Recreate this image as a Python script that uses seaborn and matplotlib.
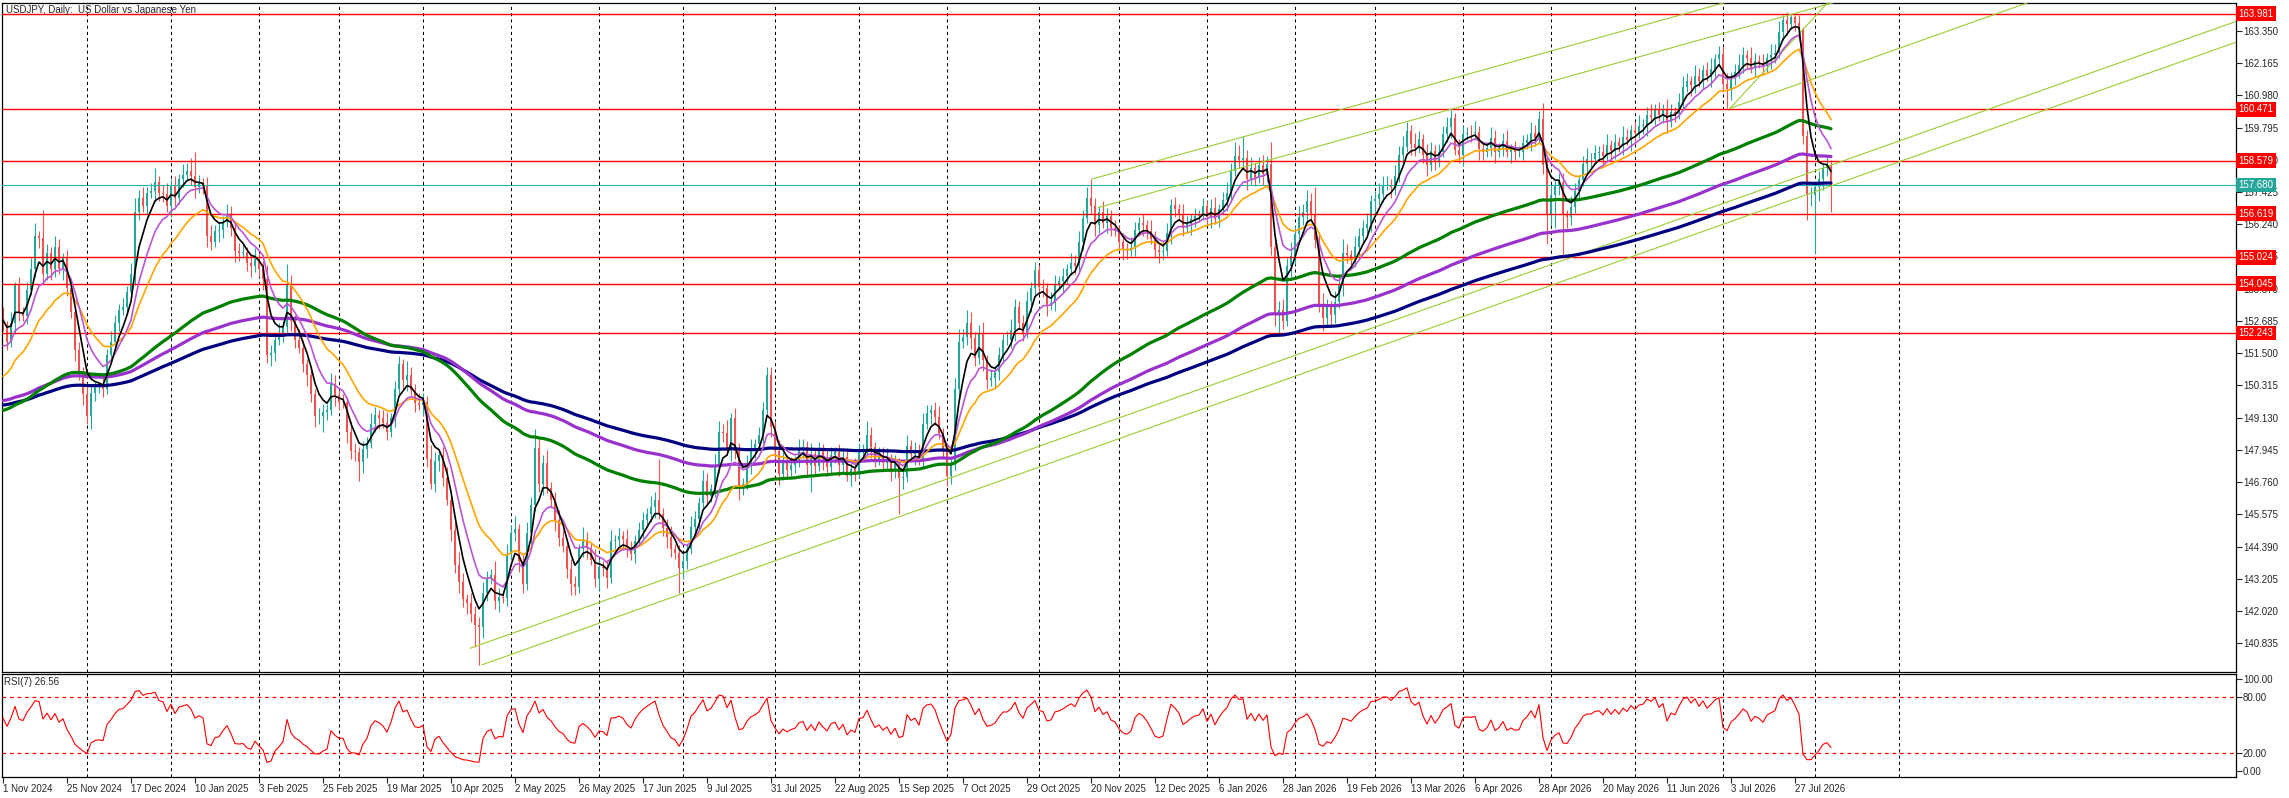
import numpy as np
import pandas as pd
import matplotlib
matplotlib.use("Agg")
import matplotlib.pyplot as plt
import matplotlib.transforms as mtransforms
import seaborn as sns

# ---- values (daily bars from 1 Nov 2024) ----
closes = [
    152.50, 151.91, 152.60, 154.00, 153.00, 152.88, 153.83, 154.60, 155.80, 155.75,
    154.40, 155.20, 154.60, 155.40, 154.60, 155.00, 153.90, 153.00, 151.60, 150.80,
    150.00, 149.20, 150.05, 150.25, 150.30, 150.19, 151.44, 151.90, 152.60, 153.10,
    153.21, 153.76, 154.40, 156.70, 157.20, 156.90, 157.40, 157.45, 157.80, 157.40,
    157.35, 156.90, 157.70, 157.20, 157.90, 158.04, 158.19, 158.00, 157.60, 157.74,
    157.66, 155.82, 155.60, 156.00, 156.04, 156.34, 156.60, 156.10, 155.25, 155.20,
    155.22, 154.82, 154.70, 154.95, 154.60, 154.24, 151.44, 151.50, 152.00, 152.21,
    152.47, 154.06, 152.70, 152.00, 151.70, 151.10, 150.70, 150.00, 149.20, 149.20,
    149.34, 149.42, 150.38, 149.96, 149.71, 149.70, 148.60, 147.90, 147.85, 147.50,
    147.96, 148.21, 148.90, 149.21, 149.12, 148.94, 148.60, 149.10, 150.18, 151.10,
    150.50, 150.70, 150.15, 149.65, 149.60, 149.72, 147.62, 146.70, 147.55, 147.75,
    146.90, 146.10, 145.00, 143.70, 143.10, 142.45, 142.30, 141.90, 141.49, 141.44,
    142.70, 143.20, 143.35, 142.40, 142.55, 142.50, 144.10, 144.90, 145.02, 143.87,
    143.00, 144.90, 145.90, 148.00, 146.70, 147.45, 146.55, 146.10, 145.35, 144.70,
    144.40, 143.55, 143.00, 142.90, 144.30, 144.62, 144.32, 143.90, 143.20, 143.65,
    143.60, 143.25, 144.60, 144.62, 144.77, 144.65, 144.30, 144.10, 144.60, 145.00,
    145.35, 145.60, 145.85, 146.10, 145.60, 145.09, 144.74, 144.30, 144.15, 143.60,
    143.85, 144.30, 145.10, 145.40, 146.00, 146.79, 146.24, 146.50, 147.30, 148.60,
    148.55, 147.95, 149.10, 147.90, 146.60, 146.70, 147.45, 147.95, 148.15, 148.50,
    149.40, 150.70, 148.80, 147.90, 147.05, 147.55, 147.20, 147.40, 147.51, 147.96,
    148.06, 147.40, 147.80, 147.35, 147.95, 147.60, 147.30, 147.75, 147.85, 147.40,
    147.70, 147.00, 147.25, 147.10, 147.90, 147.95, 148.50, 148.05, 147.60, 147.75,
    147.45, 147.60, 147.20, 147.45, 146.90, 146.95, 148.10, 147.80, 147.95, 147.60,
    148.90, 149.30, 149.40, 149.16, 148.56, 147.90, 147.00, 147.40, 150.20, 151.90,
    152.10, 152.60, 152.07, 151.31, 152.24, 151.25, 150.50, 150.60, 150.82, 151.42,
    152.00, 152.00, 152.35, 153.20, 152.60, 152.25, 153.40, 153.90, 154.54, 153.94,
    153.88, 153.28, 153.36, 154.06, 154.15, 154.33, 154.58, 154.80, 154.70, 155.58,
    156.48, 157.20, 156.90, 156.20, 156.70, 156.30, 156.55, 156.10, 156.00, 155.60,
    155.34, 155.26, 155.38, 156.02, 156.30, 156.20, 156.00, 155.70, 155.30, 155.22,
    155.27, 155.90, 156.95, 156.80, 156.60, 156.10, 156.24, 156.43, 156.54, 156.58,
    156.90, 156.50, 156.85, 156.45, 156.80, 157.12, 157.40, 158.20, 158.75, 158.60,
    158.67, 157.90, 158.30, 157.95, 158.40, 158.10, 158.45, 155.42, 152.90, 153.10,
    152.70, 154.70, 155.08, 155.88, 156.50, 156.70, 157.10, 156.60, 155.65, 153.30,
    152.80, 153.20, 152.92, 153.37, 154.00, 155.20, 155.10, 154.95, 155.40, 155.80,
    156.10, 156.25, 157.10, 157.16, 157.36, 157.70, 157.70, 157.60, 158.00, 158.80,
    159.08, 159.68, 159.19, 159.05, 159.36, 158.80, 158.40, 158.95, 158.55, 158.90,
    159.55, 159.80, 160.14, 158.98, 158.78, 159.54, 159.60, 159.58, 159.64, 159.01,
    158.90, 159.05, 159.40, 158.90, 159.03, 159.30, 158.90, 158.99, 158.90, 158.91,
    159.21, 159.35, 159.60, 159.42, 160.10, 158.40, 156.60, 157.30, 157.63, 157.81,
    156.58, 156.50, 156.86, 157.47, 157.86, 158.45, 158.65, 158.65, 158.85, 158.90,
    158.75, 159.15, 158.95, 159.25, 159.10, 159.45, 159.35, 159.70, 159.60, 159.85,
    159.90, 160.25, 160.20, 160.45, 160.25, 160.45, 160.00, 160.35, 160.30, 160.75,
    161.30, 161.50, 161.35, 161.70, 161.50, 161.90, 161.70, 161.95, 162.30, 162.50,
    161.40, 161.20, 161.64, 161.83, 162.09, 162.45, 162.35, 162.00, 162.25, 162.18,
    162.05, 162.35, 162.45, 162.55, 163.30, 163.75, 163.60, 163.85, 163.65, 163.40,
    159.50, 157.30, 157.30, 157.60, 157.90, 158.30, 158.40, 157.68,
]
first_open = 152.90

# wick lengths above / below the candle body, tenths of a yen
wick_up = [
    3, 2, 4, 1, 3, 2, 3, 4, 5, 2,  10, 3, 2, 4, 3, 2, 3, 1, 2, 3,
    2, 4, 3, 2, 1, 3, 2, 4, 3, 2,  3, 2, 4, 5, 3, 4, 2, 3, 5, 2,
    3, 4, 2, 3, 2, 4, 3, 5, 9, 3,  2, 3, 4, 2, 3, 2, 4, 3, 2, 3,
    3, 2, 3, 4, 2, 3, 5, 3, 2, 4,  2, 7, 3, 2, 4, 3, 2, 3, 2, 3,
    3, 2, 4, 3, 2, 3, 2, 4, 3, 2,  3, 2, 4, 3, 2, 3, 4, 2, 3, 3,
    2, 5, 3, 2, 4, 3, 2, 5, 3, 2,  3, 4, 2, 3, 5, 3, 2, 4, 3, 3,
    4, 3, 2, 5, 3, 2, 4, 3, 5, 2,  3, 4, 3, 7, 4, 3, 5, 2, 3, 4,
    3, 2, 4, 3, 2, 5, 3, 2, 4, 3,  2, 3, 4, 2, 3, 2, 4, 3, 2, 3,
    3, 2, 4, 3, 15, 2, 3, 4, 2, 3, 3, 2, 4, 3, 2, 4, 3, 2, 5, 4,
    3, 5, 2, 4, 3, 2, 3, 4, 2, 3,  3, 3, 3, 2, 4, 3, 2, 3, 2, 4,
    3, 2, 4, 2, 3, 2, 4, 3, 2, 3,  2, 3, 2, 4, 3, 2, 5, 3, 2, 3,
    3, 4, 2, 3, 2, 3, 4, 2, 3, 2,  4, 3, 2, 3, 4, 2, 3, 2, 4, 5,
    3, 5, 4, 2, 3, 4, 2, 3, 2, 3,  2, 3, 4, 3, 2, 3, 4, 2, 3, 2,
    3, 2, 4, 3, 2, 3, 2, 4, 3, 4,  3, 4, 7, 3, 2, 4, 3, 2, 3, 2,
    3, 2, 4, 3, 2, 3, 2, 4, 3, 2,  3, 4, 2, 3, 2, 4, 3, 2, 3, 2,
    3, 2, 3, 4, 2, 3, 4, 3, 5, 4,  8, 3, 4, 2, 3, 4, 3, 8, 4, 3,
    4, 3, 5, 3, 4, 3, 4, 3, 10, 3, 4, 3, 2, 4, 3, 5, 3, 2, 4, 3,
    3, 4, 2, 3, 4, 3, 3, 2, 4, 3,  4, 3, 2, 4, 3, 2, 4, 3, 2, 3,
    3, 4, 3, 2, 4, 3, 2, 3, 4, 2,  3, 2, 4, 3, 2, 3, 4, 2, 3, 2,
    3, 2, 4, 3, 3, 6, 3, 4, 2, 3,  3, 2, 4, 3, 2, 3, 4, 2, 3, 2,
    3, 4, 2, 3, 2, 4, 3, 2, 3, 4,  2, 3, 4, 2, 3, 2, 4, 3, 2, 3,
    4, 3, 2, 4, 3, 2, 3, 4, 2, 3,  3, 4, 2, 3, 4, 3, 2, 4, 3, 2,
    3, 2, 4, 3, 4, 2, 3, 1, 1, 3,  1, 2, 3, 2, 3, 2, 3, 2,
]
wick_dn = [
    2, 3, 2, 4, 3, 2, 3, 2, 3, 4,  3, 2, 4, 3, 2, 4, 3, 2, 4, 3,
    4, 3, 5, 3, 2, 3, 2, 3, 2, 3,  2, 3, 2, 4, 3, 2, 3, 2, 4, 3,
    3, 2, 4, 3, 2, 3, 2, 3, 4, 2,  3, 4, 3, 2, 4, 3, 2, 3, 4, 3,
    2, 3, 4, 2, 3, 4, 3, 4, 3, 2,  3, 2, 4, 3, 2, 3, 4, 3, 4, 3,
    6, 3, 2, 4, 3, 2, 4, 3, 3, 7,  4, 3, 2, 3, 4, 2, 3, 2, 3, 2,
    3, 4, 2, 3, 2, 4, 3, 2, 3, 4,  3, 2, 4, 3, 4, 3, 4, 3, 8, 14,
    4, 3, 2, 3, 4, 2, 3, 2, 3, 4,  3, 2, 4, 2, 3, 4, 2, 3, 4, 3,
    2, 3, 4, 3, 2, 3, 4, 2, 3, 4,  3, 4, 2, 3, 2, 4, 3, 2, 3, 2,
    3, 2, 3, 4, 2, 3, 4, 3, 2, 9,  4, 3, 2, 3, 4, 2, 3, 2, 3, 2,
    3, 2, 4, 3, 5, 3, 2, 4, 3, 2,  3, 2, 4, 3, 4, 2, 3, 2, 3, 2,
    3, 4, 10, 3, 2, 4, 3, 2, 3, 4, 3, 2, 4, 3, 2, 3, 2, 4, 3, 2,
    3, 2, 4, 3, 13, 4, 2, 3, 4, 2, 3, 2, 4, 3, 2, 3, 4, 3, 2, 3,
    2, 3, 4, 3, 2, 4, 3, 2, 4, 3,  3, 2, 3, 4, 2, 3, 2, 4, 3, 2,
    3, 4, 2, 3, 2, 4, 3, 2, 3, 2,  3, 2, 3, 4, 3, 2, 4, 3, 2, 3,
    4, 3, 2, 3, 2, 4, 3, 2, 3, 4,  3, 2, 4, 3, 2, 3, 2, 4, 3, 2,
    2, 3, 4, 2, 3, 2, 4, 3, 2, 3,  3, 4, 2, 3, 2, 4, 3, 3, 4, 7,
    3, 2, 4, 3, 2, 3, 4, 2, 3, 3,  5, 3, 4, 3, 2, 4, 3, 2, 3, 4,
    3, 2, 3, 4, 2, 3, 2, 4, 3, 2,  3, 2, 4, 3, 2, 3, 4, 2, 3, 2,
    2, 3, 4, 2, 3, 4, 2, 3, 2, 4,  3, 2, 3, 4, 2, 3, 2, 4, 3, 2,
    3, 2, 4, 3, 2, 3, 11, 4, 12, 3, 15, 4, 3, 2, 3, 2, 4, 3, 2, 3,
    3, 2, 4, 3, 2, 3, 2, 4, 3, 2,  3, 4, 2, 3, 2, 3, 4, 2, 3, 2,
    3, 2, 4, 3, 2, 3, 2, 4, 3, 2,  3, 7, 4, 3, 2, 3, 4, 2, 3, 2,
    3, 2, 4, 3, 2, 3, 4, 2, 3, 4,  3, 9, 4, 21, 5, 4, 3, 10,
]

# moving averages (EMA) and the value each one carries in from before 1 Nov 2024
ma_periods = [200, 150, 100, 20, 10, 5]
ma_seeds = [149.56, 149.72, 149.33, 150.45, 151.60, 152.83]

# RSI(7) average gain / loss carried in from before 1 Nov 2024
rsi_seed_gain = 0.35
rsi_seed_loss = 0.19

# horizontal levels and current bid
levels = [163.981, 160.471, 158.579, 156.619, 155.024, 154.045, 152.243]
bid = 157.680

# trend / channel lines: anchor bar, anchor price, slope per bar
line_bar = [116.75, 119.7, 272.2, 273.8, 431.75, 431.75]
line_price = [140.65, 140.04, 157.90, 156.85, 160.50, 160.50]
line_slope = [0.0522, 0.0522, 0.0410, 0.0410, 0.159, 0.0522]

price_ticks = [163.350, 162.165, 160.980, 159.795, 158.610, 157.425, 156.240,
               155.055, 153.870, 152.685, 151.500, 150.315, 149.130, 147.945,
               146.760, 145.575, 144.390, 143.205, 142.020, 140.835]
rsi_ticks = [0, 20, 80, 100]
rsi_levels = [20, 80]
holidays = ["2024-12-25", "2025-01-01", "2025-12-25"]

# ---- derived series ----
c = np.array(closes)
o = np.r_[first_open, c[:-1]]
hi = np.maximum(o, c) + np.array(wick_up) / 10
lo = np.minimum(o, c) - np.array(wick_dn) / 10
bars = np.arange(len(c))

df = pd.DataFrame({"bar": bars, "close": c})


def ema(values, span, seed):
    s = pd.Series(np.r_[seed, values])
    return s.ewm(span=span, adjust=False).mean().iloc[1:].to_numpy()


def wilder(values, seed):
    s = pd.Series(np.r_[seed, values])
    return s.ewm(alpha=1 / 7, adjust=False).mean().iloc[1:].to_numpy()


for p, s in zip(ma_periods, ma_seeds):
    df[f"ema{p}"] = ema(c, p, s)

delta = c - o
avg_gain = wilder(np.clip(delta, 0, None), rsi_seed_gain)
avg_loss = wilder(np.clip(-delta, 0, None), rsi_seed_loss)
df["rsi"] = 100 - 100 / (1 + avg_gain / avg_loss)

dates = pd.bdate_range("2024-11-01", periods=480, freq="C", holidays=holidays)
month_bars = [i for i in range(1, len(dates)) if dates[i].month != dates[i - 1].month]
label_bars = list(range(0, 449, 16))
label_text = [f"{dates[i].day} {dates[i]:%b %Y}" for i in label_bars]

# ---- figure ----
sns.set_style("white")
plt.rcParams["font.family"] = ["Liberation Sans", "DejaVu Sans"]

W, H = 2289, 798
fig = plt.figure(figsize=(W / 100, H / 100), dpi=100)
ax = fig.add_axes([2 / W, 1 - 672 / H, 2234 / W, 669 / H])
ax_rsi = fig.add_axes([2 / W, 1 - 777 / H, 2234 / W, 103 / H])

TEAL = "#26A69A"
RED = "#EF5350"
XMAX = 558.25

for a in (ax, ax_rsi):
    for b in month_bars:
        a.axvline(b, color="black", lw=0.75, ls=(0, (3, 3)), zorder=1)

# candles
col = np.where(c >= o, TEAL, RED)
ax.vlines(bars, lo, hi, colors=col, lw=0.8, zorder=2)
ax.bar(bars, np.abs(c - o), bottom=np.minimum(o, c), width=0.7, color=col, lw=0, zorder=2)

# levels
for lv in levels:
    ax.axhline(lv, color="red", lw=1.0, zorder=4)
ax.axhline(bid, color="#20B2AA", lw=0.8, zorder=4)

# channel lines
for b0, p0, k in zip(line_bar, line_price, line_slope):
    xs = np.array([b0, XMAX])
    ax.plot(xs, p0 + k * (xs - b0), color="#9ACD32", lw=0.8, zorder=4)

# moving averages
ma_style = {200: ("#000080", 2.3), 150: ("#9932CC", 2.3), 100: ("#008000", 2.3),
            20: ("#FFA500", 1.2), 10: ("#BA55D3", 1.2), 5: ("black", 1.2)}
for p in ma_periods:
    color, lw = ma_style[p]
    sns.lineplot(data=df, x="bar", y=f"ema{p}", ax=ax, color=color, linewidth=lw, zorder=5)

ax.set_xlim(-0.25, XMAX)
ax.set_ylim(139.778, 164.373)
ax.set_xlabel("")
ax.set_ylabel("")
ax.yaxis.tick_right()
ax.set_yticks(price_ticks)
ax.set_yticklabels([f"{v:.3f}" for v in price_ticks])
ax.tick_params(axis="y", direction="out", length=4, width=0.8, labelsize=7, pad=1, right=True)
ax.tick_params(axis="x", bottom=False, labelbottom=False)

trans = mtransforms.blended_transform_factory(ax.transAxes, ax.transData)
for lv in levels:
    ax.text(1.0012, lv, f"{lv:.3f}", transform=trans, ha="left", va="center", fontsize=7,
            color="white", clip_on=False, zorder=10,
            bbox=dict(boxstyle="square,pad=0.25", fc="red", ec="none"))
ax.text(1.0012, bid, f"{bid:.3f}", transform=trans, ha="left", va="center", fontsize=7,
        color="white", clip_on=False, zorder=10,
        bbox=dict(boxstyle="square,pad=0.25", fc=TEAL, ec="none"))

# RSI panel
for lv in rsi_levels:
    ax_rsi.axhline(lv, color="red", lw=0.9, ls=(0, (3, 3)), zorder=2)
sns.lineplot(data=df, x="bar", y="rsi", ax=ax_rsi, color="red", linewidth=0.8, zorder=3)
ax_rsi.set_xlim(-0.25, XMAX)
ax_rsi.set_ylim(-6.5, 105.4)
ax_rsi.set_xlabel("")
ax_rsi.set_ylabel("")
ax_rsi.yaxis.tick_right()
ax_rsi.set_yticks(rsi_ticks)
ax_rsi.set_yticklabels([f"{v:.2f}" for v in rsi_ticks])
ax_rsi.set_xticks(label_bars)
ax_rsi.set_xticklabels(label_text, ha="left")
ax_rsi.tick_params(axis="y", direction="out", length=4, width=0.8, labelsize=7, pad=1, right=True)
ax_rsi.tick_params(axis="x", direction="out", length=4, width=0.8, labelsize=7, pad=1, bottom=True)

for a in (ax, ax_rsi):
    for sp in a.spines.values():
        sp.set_color("black")
        sp.set_linewidth(0.9)

fig.text(6 / W, 1 - 10 / H, "USDJPY, Daily:  US Dollar vs Japanese Yen", fontsize=7,
         ha="left", va="center")
fig.text(4 / W, 1 - 682 / H, "RSI(7) 26.56", fontsize=7, ha="left", va="center")

fig.savefig("out.png", dpi=100, facecolor="white")
